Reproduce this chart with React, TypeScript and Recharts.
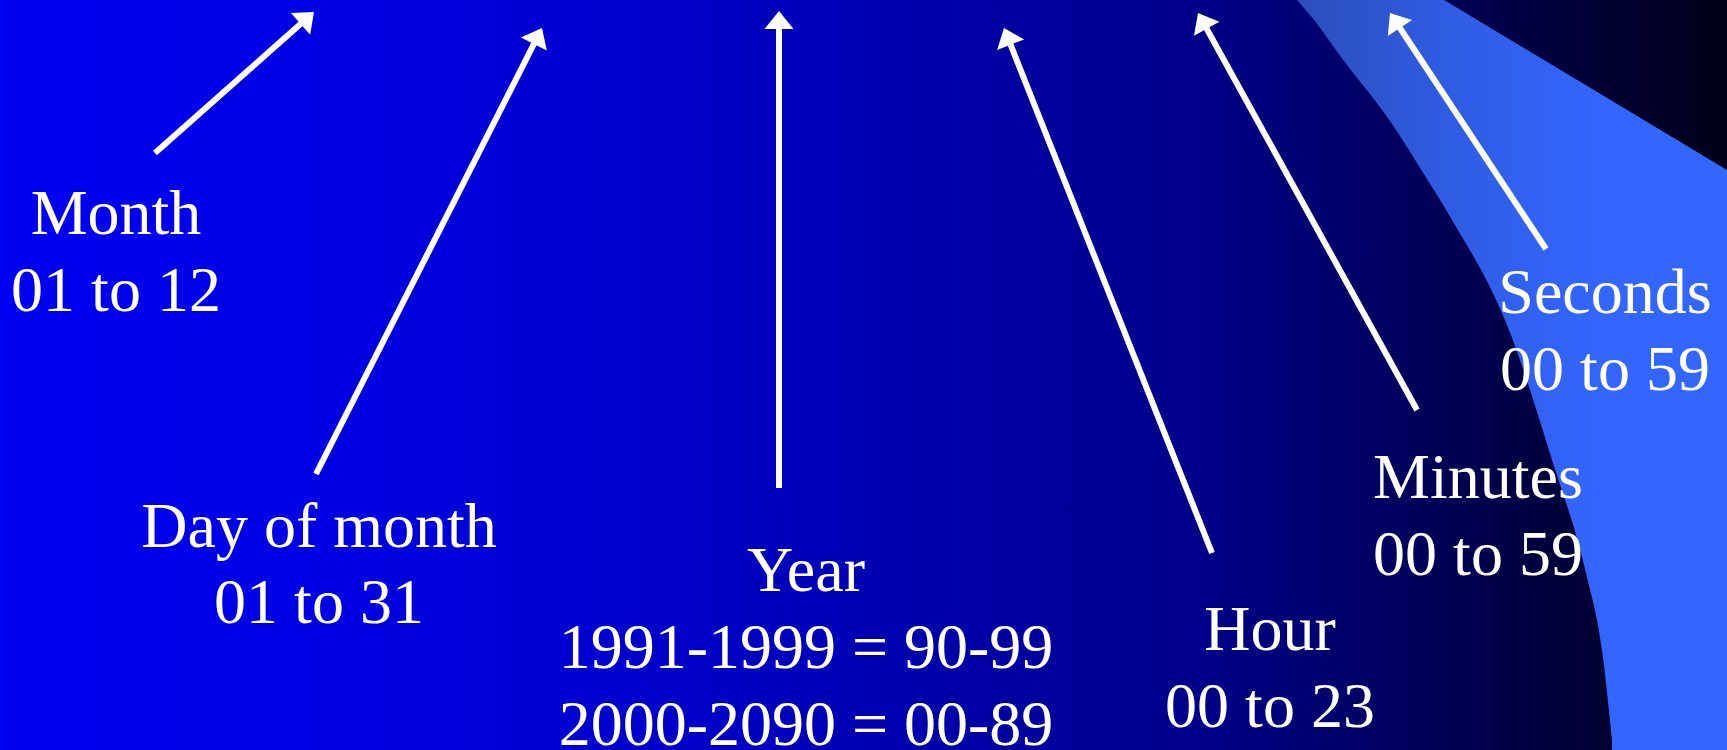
import { ComposedChart, XAxis, YAxis, Area, Line, Scatter } from "recharts";

const W = 1727;
const H = 750;

// light blue sweep on the right: curved left edge x -> [top, bottom]
const bandX = [1297, 1314, 1341, 1392, 1422, 1449, 1509, 1553, 1586, 1602, 1613];
const bandBottom = [0, 20, 57, 124, 171, 215, 330, 463, 573, 650, 750];
const band = bandX.map((x, i) => ({ x, r: [0, bandBottom[i]] }));

// rest of the sweep out to the right edge
const bandRestX = [1612, 1727];
const bandRest = bandRestX.map((x) => ({ x, r: [0, H] }));

// dark corner top right
const cornerX = [1444, 1727];
const cornerBottom = [0, 170];
const corner = cornerX.map((x, i) => ({ x, r: [0, cornerBottom[i]] }));

// arrows: tail -> tip
const arrows = [
  { name: "month", from: [155, 153], to: [314, 12] },
  { name: "day", from: [316, 474], to: [542, 28] },
  { name: "year", from: [779, 488], to: [779, 11] },
  { name: "hour", from: [1212, 553], to: [1004, 28] },
  { name: "minutes", from: [1417, 410], to: [1198, 13] },
  { name: "seconds", from: [1546, 249], to: [1390, 13] },
];

const labels = [
  { x: 116, y: 234, text: "Month" },
  { x: 116, y: 311, text: "01 to 12" },
  { x: 319, y: 547, text: "Day of month" },
  { x: 319, y: 623, text: "01 to 31" },
  { x: 806, y: 591, text: "Year" },
  { x: 806, y: 668, text: "1991-1999 = 90-99" },
  { x: 806, y: 745, text: "2000-2090 = 00-89" },
  { x: 1270, y: 650, text: "Hour" },
  { x: 1270, y: 727, text: "00 to 23" },
  { x: 1478, y: 498, text: "Minutes" },
  { x: 1478, y: 575, text: "00 to 59" },
  { x: 1605, y: 313, text: "Seconds" },
  { x: 1605, y: 390, text: "00 to 59" },
];

const bgStops = [
  ["0%", "#0000F2"],
  ["20%", "#0000E2"],
  ["40%", "#0000C8"],
  ["58%", "#0000A2"],
  ["70%", "#000088"],
  ["80%", "#000062"],
  ["87%", "#000048"],
  ["93%", "#000030"],
  ["100%", "#000018"],
];

const HEAD_LEN = 18;
const HEAD_HALF = 14.5;

function arrowHead(from: number[], to: number[]) {
  return (p: any) => {
    if (p.index !== 1) return <g key={p.key} />;
    let ax = from[0];
    let ay = from[1];
    if (p.points && p.points[0]) {
      ax = p.points[0].x;
      ay = p.points[0].y;
    }
    const ang = (Math.atan2(p.cy - ay, p.cx - ax) * 180) / Math.PI;
    return (
      <polygon
        key={p.key}
        points={`0,0 ${-HEAD_LEN},${-HEAD_HALF} ${-HEAD_LEN},${HEAD_HALF}`}
        fill="#fff"
        transform={`translate(${p.cx},${p.cy}) rotate(${ang})`}
      />
    );
  };
}

const TextMark = (p: any) => (
  <text
    x={p.cx}
    y={p.cy}
    textAnchor="middle"
    fontFamily="'Liberation Serif', 'Times New Roman', serif"
    fontSize={64}
    fill="#ffffff"
  >
    {p.payload.text}
  </text>
);

export default function App() {
  const grad = `linear-gradient(to right, ${bgStops.map((s) => `${s[1]} ${s[0]}`).join(", ")})`;
  return (
    <div style={{ position: "absolute", left: 0, top: 0, width: W, height: H, background: grad, overflow: "hidden" }}>
      <svg width={0} height={0} style={{ position: "absolute" }}>
        <defs>
          <linearGradient id="bgGrad" gradientUnits="userSpaceOnUse" x1={0} y1={0} x2={W} y2={0}>
            {bgStops.map((s) => (
              <stop key={s[0]} offset={s[0]} stopColor={s[1]} />
            ))}
          </linearGradient>
          <linearGradient id="bandGrad" gradientUnits="userSpaceOnUse" x1={1297} y1={0} x2={1600} y2={0}>
            <stop offset="0%" stopColor="#2C4EBA" />
            <stop offset="45%" stopColor="#2E5BDF" />
            <stop offset="100%" stopColor="#3366FF" />
          </linearGradient>
        </defs>
      </svg>
      <ComposedChart width={W} height={H} margin={{ top: 0, right: 0, bottom: 0, left: 0 }}>
        <XAxis dataKey="x" type="number" domain={[0, W]} hide allowDataOverflow />
        <YAxis dataKey="y" type="number" domain={[0, H]} reversed hide allowDataOverflow />
        <Area
          data={band}
          dataKey="r"
          type="monotone"
          fill="url(#bandGrad)"
          fillOpacity={1}
          stroke="none"
          isAnimationActive={false}
          activeDot={false}
        />
        <Area
          data={bandRest}
          dataKey="r"
          type="linear"
          fill="url(#bandGrad)"
          fillOpacity={1}
          stroke="none"
          isAnimationActive={false}
          activeDot={false}
        />
        <Area
          data={corner}
          dataKey="r"
          type="linear"
          fill="url(#bgGrad)"
          fillOpacity={1}
          stroke="none"
          isAnimationActive={false}
          activeDot={false}
        />
        {arrows.map((a) => {
          const len = Math.hypot(a.to[0] - a.from[0], a.to[1] - a.from[1]);
          return (
            <Line
              key={a.name}
              data={[
                { x: a.from[0], y: a.from[1] },
                { x: a.to[0], y: a.to[1] },
              ]}
              dataKey="y"
              type="linear"
              stroke="#ffffff"
              strokeWidth={6}
              strokeDasharray={`${len - 12} ${len + 20}`}
              dot={arrowHead(a.from, a.to)}
              activeDot={false}
              isAnimationActive={false}
            />
          );
        })}
        <Scatter data={labels} dataKey="y" shape={TextMark} isAnimationActive={false} />
      </ComposedChart>
    </div>
  );
}
